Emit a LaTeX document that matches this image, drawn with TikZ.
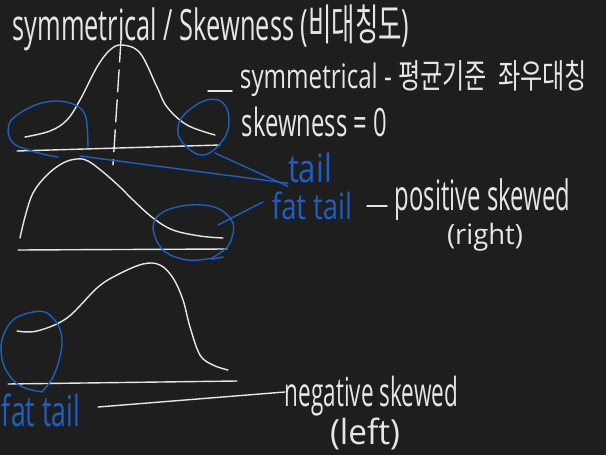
\documentclass[tikz,border=0pt]{standalone}
\usepackage{graphicx}
\usepackage{fontspec}
\setmainfont{Open Sans}
\newfontfamily\kr{Noto Sans CJK KR}
\definecolor{bg}{HTML}{1E1E1E}
\definecolor{chalk}{HTML}{E6E6E6}
\definecolor{pen}{HTML}{1C5FC8}
\newcommand{\fitbox}[3]{\resizebox*{#1pt}{#2pt}{#3}}
\tikzset{
  wline/.style={draw=chalk, line width=1.4pt, line cap=round, line join=round},
  bline/.style={draw=pen, line width=1.4pt, line cap=round, line join=round},
  wtext/.style={text=chalk, inner sep=0pt, font=\fontsize{20}{22}\selectfont},
  btext/.style={text=pen, inner sep=0pt, font=\fontsize{20}{22}\selectfont},
}
\begin{document}
\begin{tikzpicture}[x=1pt,y=-1pt]
\fill[bg] (0,0) rectangle (606,455);
\useasboundingbox (0,0) rectangle (606,455);

% title
\node[wtext] (title) at (211,28) {\fitbox{397}{46}{symmetrical / Skewness ({\kr 비대칭도})}};

% symmetric curve
\draw[wline] plot[smooth,tension=0.6] coordinates {(25,137) (50,131) (67,120) (80,100) (97,67) (110,50) (122,45) (140,53) (157,87) (167,107) (187,125) (215,135)};
\draw[wline, dash pattern=on 22pt off 8pt] (121,40) -- (113,165);
\draw[wline] (17,151) -- (220,145);

% blue marks on symmetric
\draw[bline] plot[smooth,tension=0.6] coordinates {(88,148) (86,118) (77,106) (57,101) (33,106) (10,122) (12,142) (35,152) (58,157)};
\draw[bline] plot[smooth cycle,tension=0.7] coordinates {(203,155) (183,143) (178,127) (187,112) (207,100) (223,103) (229,120) (223,140)};
\coordinate (tailA) at (215,153);
\coordinate (tailB) at (80,156);

% labels symmetric
\coordinate (d1) at (208,91);
\node[wtext] (sym) at (413.5,79) {\fitbox{347}{36}{symmetrical - {\kr 평균기준 \ 좌우대칭}}};
\draw[wline] (d1) -- (232,91);
\node[wtext] (skew0) at (314.5,122) {\fitbox{145}{30}{skewness = 0}};

\node[btext] (tail) at (310,168) {\fitbox{44}{30}{tail}};
\draw[bline] (tailA) -- ([yshift=-3pt]tail.south west);
\draw[bline] (tailB) -- (tail.south west);

% positive skew curve
\draw[wline] plot[smooth,tension=0.6] coordinates {(20,238) (25,217) (33,193) (47,175) (63,163) (77,159) (88,161) (103,172) (120,187) (133,200) (153,218) (173,230) (200,236) (223,238)};
\draw[wline] (18,250) -- (227,249);
\draw[bline] plot[smooth,tension=0.6] coordinates {(213,258) (187,260) (163,250) (153,227) (163,212) (190,205) (217,208) (233,223) (230,243) (220,253) (211,259) (223,257)};
\coordinate (ft2) at (218,225);
\node[btext] (fat2) at (312,206) {\fitbox{80}{28}{fat tail}};
\draw[bline] (ft2) -- ([xshift=-9pt,yshift=4pt]fat2.west);
\coordinate (d2) at (367,206);
\node[wtext] (pos) at (482.5,200) {\fitbox{175}{42}{positive skewed}};
\draw[wline] (d2) -- (387,206);
\node[wtext] (right) at (485,237.5) {\fitbox{76}{28}{(right)}};

% negative skew curve
\draw[wline] plot[smooth,tension=0.6] coordinates {(17,331) (37,331) (67,318) (97,288) (117,275) (143,264) (160,265) (173,278) (183,300) (190,327) (200,355) (213,365) (228,370)};
\draw[wline] (8,384) -- (237,381);
\draw[bline] plot[smooth,tension=0.6] coordinates {(42,392) (53,377) (60,357) (62,340) (58,325) (47,313) (33,312) (13,320) (2,340) (3,363) (13,380) (25,388) (42,392)};

\node[btext] (fat3) at (41,410.5) {\fitbox{78}{33}{fat tail}};
\node[wtext] (neg) at (371.5,396) {\fitbox{173}{40}{negative skewed}};
\draw[wline] (98,407) -- ([yshift=4pt]neg.west);
\node[wtext] (left) at (365,433.5) {\fitbox{70}{32}{(left)}};
\end{tikzpicture}
\end{document}
